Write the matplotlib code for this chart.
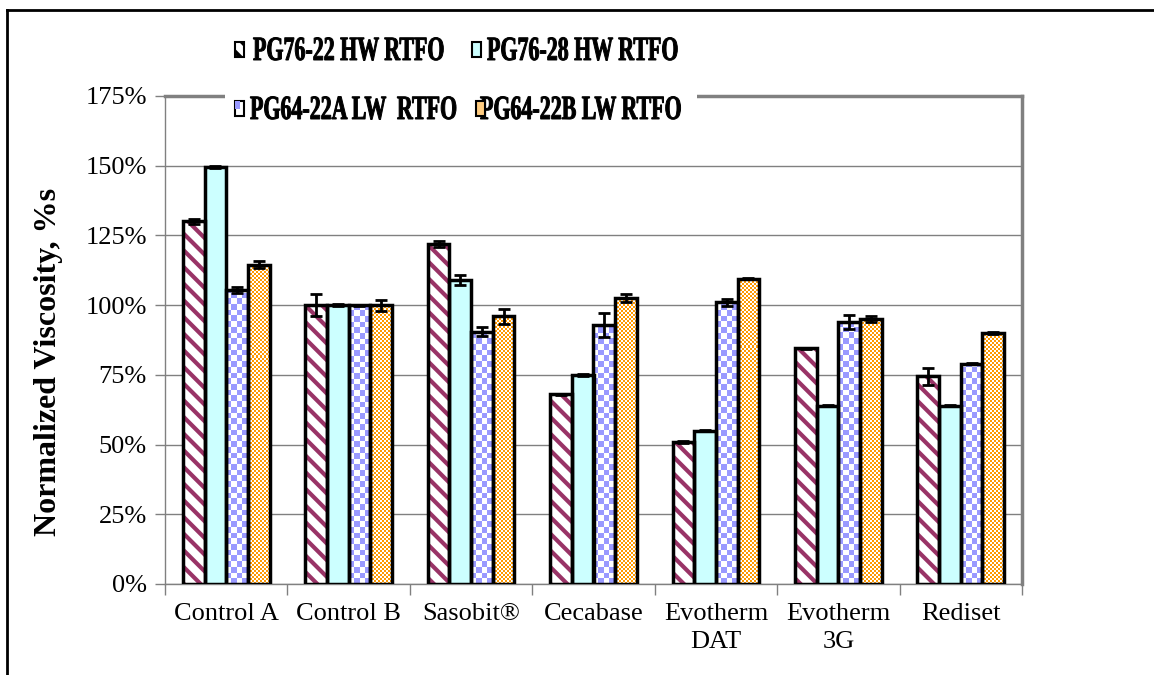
import numpy as np
import matplotlib
matplotlib.use("Agg")
import matplotlib.pyplot as plt
from matplotlib.patches import Rectangle, PathPatch
from matplotlib.textpath import TextPath
from matplotlib.font_manager import FontProperties
from matplotlib.transforms import Affine2D
from matplotlib.lines import Line2D

categories = ["Control A", "Control B", "Sasobit®", "Cecabase",
              "Evotherm\nDAT", "Evotherm\n3G", "Rediset"]
series_names = ["PG76-22 HW RTFO", "PG76-28 HW RTFO",
                "PG64-22A LW  RTFO", "PG64-22B LW RTFO"]

pg7622 = [130, 100, 122, 68, 51, 84.5, 74.5]
pg7628 = [149.5, 100, 109, 75, 55, 64, 64]
pg6422a = [105.5, 100, 90.5, 93, 101, 94, 79]
pg6422b = [114.5, 100, 96, 102.5, 109.5, 95, 90]

err7622 = [1, 4, 1, 0.3, 0.3, 0.3, 3]
err7628 = [0.3, 0.3, 1.8, 0.3, 0.2, 0.3, 0.3]
err6422a = [1, 0.2, 1.5, 4.3, 1.3, 2.5, 0.2]
err6422b = [1.2, 2, 2.7, 1.5, 0.2, 1, 0.2]

values = [pg7622, pg7628, pg6422a, pg6422b]
errors = [err7622, err7628, err6422a, err6422b]

W, H = 1154, 675
plt.rcParams['font.family'] = ['Liberation Serif', 'DejaVu Serif']
plt.rcParams['hatch.linewidth'] = 3.0

fig = plt.figure(figsize=(W / 100, H / 100), dpi=100)
ax = fig.add_axes([165 / W, (H - 584) / H, (1022 - 165) / W, (584 - 96) / H])

maroon = "#993366"
cyan = "#CCFFFF"
blue = "#9999FF"
orange = "#FF9900"
grey = "#808080"

x = np.arange(len(categories))
bw = 0.177
offsets = (np.arange(4) - 1.5) * bw
ylim = (0, 175)
px_y = (ylim[1] - ylim[0]) / (584 - 96)


def checker_fill(bar, color, ncols, cell_px):
    # checkerboard pattern image clipped to the bar
    bx, w, h = bar.get_x(), bar.get_width(), bar.get_height()
    ch = cell_px * px_y
    ny = int(np.ceil(h / ch)) + 1
    arr = np.add.outer(np.arange(ny), np.arange(ncols)) % 2
    rgb = np.where(arr[..., None] == 1,
                   np.array(matplotlib.colors.to_rgb(color)),
                   np.array([1.0, 1.0, 1.0]))
    im = ax.imshow(rgb, extent=(bx, bx + w, 0, ny * ch), origin="lower",
                   interpolation="none", aspect="auto", zorder=2)
    im.set_clip_path(bar)


for k in range(4):
    pos = x + offsets[k]
    if k == 0:
        ax.bar(pos, values[k], bw, color="white", edgecolor=maroon,
               hatch="\\\\", linewidth=0, zorder=2)
    elif k == 1:
        ax.bar(pos, values[k], bw, color=cyan, linewidth=0, zorder=2)
    else:
        bars = ax.bar(pos, values[k], bw, color="white", linewidth=0, zorder=2)
        for b in bars:
            if k == 2:
                checker_fill(b, blue, 4, 5.7)
            else:
                checker_fill(b, orange, 11, 2.0)
    ax.bar(pos, values[k], bw, color="none", edgecolor="black",
           linewidth=2.5, zorder=3)
    ax.errorbar(pos, values[k], yerr=errors[k], fmt="none", ecolor="black",
                elinewidth=2, capsize=4.5, capthick=2, zorder=4)

ax.set_xlim(-0.5, len(categories) - 0.5)
ax.set_ylim(*ylim)
ax.set_yticks(np.arange(0, 176, 25))
ax.set_yticklabels([f"{v}%" for v in range(0, 176, 25)], fontsize=19)
ax.set_xticks(x)
ax.set_xticklabels(categories, fontsize=19, linespacing=1.35)
ax.set_xticks(np.arange(-0.5, len(categories)), minor=True)
ax.tick_params(axis="x", which="major", length=0, pad=14)
ax.tick_params(axis="x", which="minor", length=8, color=grey, width=1)
ax.tick_params(axis="y", length=7, color=grey, width=1, pad=6)
ax.yaxis.grid(True, color=grey, linewidth=1)
ax.set_axisbelow(True)
for side in ["left", "bottom"]:
    ax.spines[side].set_color(grey)
    ax.spines[side].set_linewidth(1)
for side in ["top", "right"]:
    ax.spines[side].set_color(grey)
    ax.spines[side].set_linewidth(2.5)
ax.set_ylabel("Normalized Viscosity, %s", fontsize=23, fontweight="bold")
ax.yaxis.set_label_coords(-0.119, 0.455)

# outer border
fig.add_artist(Line2D([7 / W, 7 / W], [0, (H - 10) / H], color="black", lw=2))
fig.add_artist(Line2D([7 / W, 1], [(H - 10) / H, (H - 10) / H], color="black", lw=2))

# legend (condensed bold text, drawn as paths in pixel coords)
pix = Affine2D().scale(1 / W, 1 / H) + fig.transFigure
fig.add_artist(Rectangle((225, H - 126), 472, 100, facecolor="white",
                         edgecolor="none", transform=pix, zorder=5))
fp = FontProperties(family="Liberation Serif", weight="bold")
ref = TextPath((0, 0), series_names[0], size=34, prop=fp)
sx = 190 / ref.get_extents().width
entries = [(253, 60, 235), (487, 60, 472), (250, 119, 235), (480, 119, 476)]
for k, (tx, ty, mx) in enumerate(entries):
    tp = TextPath((0, 0), series_names[k], size=34, prop=fp)
    fig.add_artist(PathPatch(tp, facecolor="black", edgecolor="black",
                             linewidth=0.7, zorder=6,
                             transform=Affine2D().scale(sx, 1).translate(tx, H - ty) + pix))
    mk = dict(transform=pix, zorder=6, linewidth=1.5, edgecolor="black")
    if k == 0:
        fig.add_artist(Rectangle((mx, H - ty + 3), 9, 15, facecolor="white",
                                 hatch="\\\\", **mk))
    elif k == 1:
        fig.add_artist(Rectangle((mx, H - ty + 3), 9, 15, facecolor=cyan, **mk))
    elif k == 2:
        fig.add_artist(Rectangle((mx, H - ty + 3), 9, 15, facecolor="white", **mk))
        fig.add_artist(Rectangle((mx, H - ty + 10), 4.5, 8, facecolor=blue,
                                 edgecolor="none", transform=pix, zorder=6))
    else:
        fig.add_artist(Rectangle((mx, H - ty + 3), 9, 15, facecolor="#FFCC80", **mk))

fig.savefig("out.png", dpi=100)
